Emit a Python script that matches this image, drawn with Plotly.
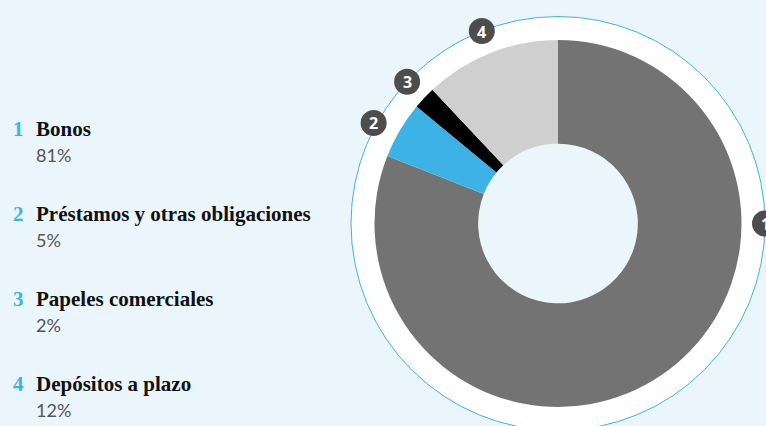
import math
import plotly.graph_objects as go

# Composition data
numbers = ["1", "2", "3", "4"]
categories = ["Bonos", "Préstamos y otras obligaciones", "Papeles comerciales", "Depósitos a plazo"]
shares = [81, 5, 2, 12]
colors = ["#737373", "#3cb3e4", "#000000", "#cfcfcf"]

W, H = 766, 426
BG = "#eaf5fc"

# Donut geometry in pixels
cx, cy = 558, 223.5
r_pie = 183.5
hole = 0.435
r_ring = 207
badge_r = 13

fig = go.Figure()
fig.add_trace(go.Pie(
    values=shares,
    labels=categories,
    marker=dict(colors=colors, line=dict(width=0)),
    hole=hole,
    sort=False,
    direction="clockwise",
    rotation=0,
    textinfo="none",
    hoverinfo="label+percent",
    domain=dict(
        x=[(cx - r_pie) / W, (cx + r_pie) / W],
        y=[(H - cy - r_pie) / H, (H - cy + r_pie) / H],
    ),
    showlegend=False,
))

def px(x):
    return x / W

def py(y):
    return (H - y) / H

def disc(x, y, r, fill, layer, line=None):
    return dict(
        type="circle", xref="paper", yref="paper", layer=layer,
        x0=px(x - r), x1=px(x + r), y0=py(y + r), y1=py(y - r),
        fillcolor=fill, line=line or dict(width=0),
    )

# White ring behind the donut, with the hole left in the page colour
shapes = [
    disc(cx, cy, r_ring, "white", "below", dict(color="#3cb3e4", width=1)),
    disc(cx, cy, r_pie * hole, BG, "below"),
]
annotations = []

# Badge angles (clockwise from 12 o'clock): slice midpoints, first one at 3 o'clock
total = sum(shares)
angles = []
acc = 0
for i, v in enumerate(shares):
    mid = (acc + v / 2) / total * 360
    acc += v
    angles.append(90 if i == 0 else mid)
angles[1] -= 2

for num, ang in zip(numbers, angles):
    rr = r_ring + (3 if num == "2" else 0)
    bx = cx + rr * math.sin(math.radians(ang))
    by = cy - rr * math.cos(math.radians(ang))
    shapes.append(disc(bx, by, badge_r, "#4d4d4d", "above"))
    annotations.append(dict(
        x=px(bx), y=py(by + 0.5), xref="paper", yref="paper",
        text=f"<b>{num}</b>", showarrow=False,
        font=dict(family="Open Sans, Roboto, sans-serif", size=16, color="white"),
        xanchor="center", yanchor="middle",
    ))

# Left-hand key
y0_item, step = 129, 85
for i, (num, cat, val) in enumerate(zip(numbers, categories, shares)):
    yy = y0_item + i * step
    annotations.append(dict(
        x=px(11), y=py(yy), xref="paper", yref="paper",
        text=f"<b>{num}</b>", showarrow=False, xanchor="left", yanchor="middle",
        font=dict(family="Liberation Serif, serif", size=21, color="#3cb3e4"),
    ))
    annotations.append(dict(
        x=px(34), y=py(yy), xref="paper", yref="paper",
        text=f"<b>{cat}</b>", showarrow=False, xanchor="left", yanchor="middle",
        font=dict(family="Liberation Serif, serif", size=21, color="#111111"),
    ))
    annotations.append(dict(
        x=px(34), y=py(yy + 26), xref="paper", yref="paper",
        text=f"{val}%", showarrow=False, xanchor="left", yanchor="middle",
        font=dict(family="Lato, sans-serif", size=18, color="#555555"),
    ))

fig.update_layout(
    width=W, height=H,
    margin=dict(l=0, r=0, t=0, b=0),
    paper_bgcolor=BG, plot_bgcolor=BG,
    shapes=shapes, annotations=annotations,
)

fig.write_html("out.html")
